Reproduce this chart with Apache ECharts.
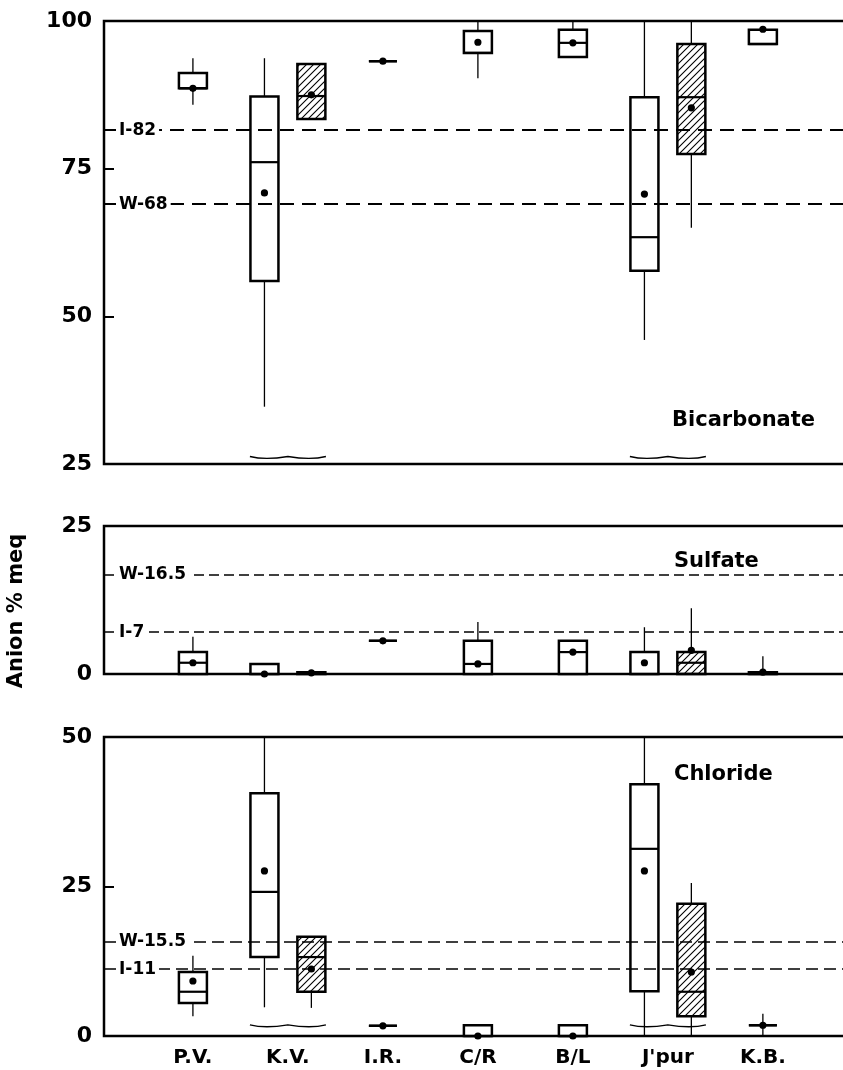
<!DOCTYPE html>
<html>
<head>
<meta charset="utf-8">
<script src="https://cdn.jsdelivr.net/npm/echarts@6/dist/echarts.min.js"></script>
<style>
  html, body { margin: 0; padding: 0; background: #fff; }
  #chart { width: 843px; height: 1070px; }
</style>
</head>
<body>
<div id="chart"></div>
<script>
// Anion % meq by site — three stacked box-plot panels

const categories = ['P.V.', 'K.V.', 'I.R.', 'C/R', 'B/L', "J'pur", 'K.B.'];

// rows: [site index, min, q1, median, q3, max, mean]
const bicarbPlain = [
  [0, 85.8, 88.6, 88.6, 91.2, 93.7, 88.6],
  [1, 34.7, 56.0, 76.1, 87.2, 93.7, 70.9],
  [2, 93.2, 93.2, 93.2, 93.2, 93.2, 93.2],
  [3, 90.3, 94.6, 94.6, 98.3, 100, 96.4],
  [4, 93.9, 93.9, 96.3, 98.5, 100, 96.3],
  [5, 46.0, 57.7, 63.4, 87.1, 100, 70.7],
  [6, 96.1, 96.1, 96.1, 98.5, 98.5, 98.6]
];
const bicarbHatched = [
  [1, 83.4, 83.4, 87.3, 92.7, 92.7, 87.5],
  [5, 65.0, 77.5, 87.1, 96.1, 100, 85.3]
];
const bicarbRefs = [['I-82', 81.6], ['W-68', 69]];
const bicarbBreaks = [[1, 26.1], [5, 26.1]];

const sulfatePlain = [
  [0, 0, 0, 1.9, 3.7, 6.3, 1.9],
  [1, 0, 0, 0, 1.7, 1.7, 0],
  [2, 5.6, 5.6, 5.6, 5.6, 5.6, 5.6],
  [3, 0, 0, 1.7, 5.6, 8.8, 1.7],
  [4, 0, 0, 3.7, 5.6, 5.6, 3.7],
  [5, 0, 0, 0, 3.7, 7.9, 1.9],
  [6, 0, 0, 0, 0.3, 3.0, 0.3]
];
const sulfateHatched = [
  [1, 0, 0, 0.2, 0.3, 0.3, 0.2],
  [5, 0, 0, 1.9, 3.7, 11.1, 4.0]
];
const sulfateRefs = [['W-16.5', 16.8], ['I-7', 7.1]];

const chloridePlain = [
  [0, 3.3, 5.5, 7.4, 10.7, 13.4, 9.2],
  [1, 4.8, 13.2, 24.1, 40.6, 50, 27.6],
  [2, 1.7, 1.7, 1.7, 1.7, 1.7, 1.7],
  [3, 0, 0, 0, 1.8, 1.8, 0],
  [4, 0, 0, 0, 1.8, 1.8, 0],
  [5, 0, 7.5, 31.3, 42.1, 50, 27.6],
  [6, 0, 1.8, 1.8, 1.8, 3.7, 1.8]
];
const chlorideHatched = [
  [1, 4.7, 7.4, 13.2, 16.6, 16.6, 11.2],
  [5, 0, 3.3, 7.4, 22.1, 25.6, 10.7]
];
const chlorideRefs = [['W-15.5', 15.8], ['I-11', 11.2]];
const chlorideBreaks = [[1, 1.7], [5, 1.7]];

const FONT = 'DejaVu Sans';
const PAIR_SHIFT = 0.247;   // x-units between site centre and each box of a pair
const BOX_HALF = 14;        // px

// diagonal hatch fill
function hatchPattern() {
  const c = document.createElement('canvas');
  c.width = c.height = 7;
  const g = c.getContext('2d');
  g.strokeStyle = '#000';
  g.lineWidth = 1.1;
  g.beginPath();
  g.moveTo(0, 7); g.lineTo(7, 0);
  g.moveTo(-1, 1); g.lineTo(1, -1);
  g.moveTo(6, 8); g.lineTo(8, 6);
  g.stroke();
  return { image: c, repeat: 'repeat' };
}
const HATCH = hatchPattern();

function boxRenderer(fill, slotOf) {
  return function (params, api) {
    const cat = api.value(0);
    const x = cat + slotOf(cat) * PAIR_SHIFT;
    const px = v => api.coord([x, v]);
    const cx = px(0)[0];
    const yMin = px(api.value(1))[1];
    const yQ1 = px(api.value(2))[1];
    const yMed = px(api.value(3))[1];
    const yQ3 = px(api.value(4))[1];
    const yMax = px(api.value(5))[1];
    const yMean = px(api.value(6))[1];
    const thin = { stroke: '#000', lineWidth: 1.3 };
    return {
      type: 'group',
      children: [
        { type: 'line', shape: { x1: cx, y1: yMax, x2: cx, y2: yQ3 }, style: thin },
        { type: 'line', shape: { x1: cx, y1: yQ1, x2: cx, y2: yMin }, style: thin },
        { type: 'rect', shape: { x: cx - BOX_HALF, y: yQ3, width: BOX_HALF * 2, height: yQ1 - yQ3 },
          style: { fill: fill, stroke: '#000', lineWidth: 2.5 } },
        { type: 'line', shape: { x1: cx - BOX_HALF, y1: yMed, x2: cx + BOX_HALF, y2: yMed },
          style: { stroke: '#000', lineWidth: 2.2 } },
        { type: 'circle', shape: { cx: cx, cy: yMean, r: 3.6 }, style: { fill: '#000' } }
      ]
    };
  };
}

// flat wavy mark under a broken whisker pair
function breakRenderer(params, api) {
  const [cx, cy] = api.coord([api.value(0), api.value(1)]);
  const d = `M${cx - 38} ${cy - 1} C${cx - 26} ${cy + 2} ${cx - 12} ${cy + 1} ${cx} ${cy - 1} ` +
            `C${cx + 12} ${cy + 1} ${cx + 26} ${cy + 2} ${cx + 38} ${cy - 1}`;
  return { type: 'path', shape: { pathData: d }, style: { fill: null, stroke: '#000', lineWidth: 1.4 } };
}

function refLines(refs, width, dash) {
  return {
    silent: true,
    symbol: 'none',
    lineStyle: { color: '#000', width: width, type: dash },
    label: {
      position: 'insideStartTop',
      distance: [12, -9],
      color: '#000',
      fontFamily: FONT,
      fontWeight: 'bold',
      fontSize: 17,
      backgroundColor: '#fff',
      padding: [0, 3]
    },
    data: refs.map(([name, v]) => ({ yAxis: v, label: { formatter: name } }))
  };
}

function panelSeries(idx, plain, hatched, refs, breaks, refWidth, dash) {
  const pairCats = hatched.map(r => r[0]);
  const list = [
    {
      type: 'custom', xAxisIndex: idx, yAxisIndex: idx, clip: false,
      renderItem: boxRenderer('#fff', c => (pairCats.includes(c) ? -1 : 0)),
      data: plain,
      markLine: refLines(refs, refWidth, dash),
      z: 3
    },
    {
      type: 'custom', xAxisIndex: idx, yAxisIndex: idx, clip: false,
      renderItem: boxRenderer(HATCH, () => 1),
      data: hatched,
      z: 3
    }
  ];
  if (breaks) {
    list.push({
      type: 'custom', xAxisIndex: idx, yAxisIndex: idx, clip: false,
      renderItem: breakRenderer, data: breaks, z: 3
    });
  }
  return list;
}

const gridBase = { left: 104, right: -3, show: true, borderColor: '#000', borderWidth: 2.5, outerBoundsMode: 'none' };
const grids = [
  Object.assign({ top: 21, height: 443 }, gridBase),
  Object.assign({ top: 526, height: 148 }, gridBase),
  Object.assign({ top: 737, height: 299 }, gridBase)
];

const xAxes = [0, 1, 2].map(i => ({
  type: 'value', gridIndex: i, min: -0.936, max: 6.875,
  axisLine: { show: false, onZero: false }, splitLine: { show: false },
  axisTick: { show: false },
  axisLabel: i === 2 ? {
    show: true, customValues: categories.map((c, k) => k),
    formatter: v => categories[Math.round(v)] || '',
    color: '#000', fontFamily: FONT, fontWeight: 'bold', fontSize: 20, margin: 12
  } : { show: false }
}));

const yLabel = { color: '#000', fontFamily: FONT, fontWeight: 'bold', fontSize: 22, margin: 12 };
const yCommon = {
  type: 'value', interval: 25,
  axisLine: { show: false, onZero: false }, splitLine: { show: false },
  axisTick: { show: true, inside: true, length: 10, lineStyle: { color: '#000', width: 2 } },
  axisLabel: yLabel
};
const yAxes = [
  Object.assign({}, yCommon, { gridIndex: 0, min: 25, max: 100 }),
  Object.assign({}, yCommon, { gridIndex: 1, min: 0, max: 25 }),
  Object.assign({}, yCommon, { gridIndex: 2, min: 0, max: 50 })
];

const titleStyle = { color: '#000', fontFamily: FONT, fontWeight: 'bold', fontSize: 21 };

const chart = echarts.init(document.getElementById('chart'), null, { renderer: 'canvas' });
chart.setOption({
  animation: false,
  backgroundColor: '#fff',
  textStyle: { fontFamily: FONT },
  title: [
    { text: 'Bicarbonate', left: 672, top: 410, padding: 0, textStyle: titleStyle },
    { text: 'Sulfate', left: 674, top: 551, padding: 0, textStyle: titleStyle },
    { text: 'Chloride', left: 674, top: 764, padding: 0, textStyle: titleStyle }
  ],
  graphic: [{
    type: 'text', x: 17, y: 611, rotation: Math.PI / 2,
    style: {
      text: 'Anion % meq', align: 'center', verticalAlign: 'middle',
      fill: '#000', font: 'bold 21px "DejaVu Sans"'
    }
  }],
  grid: grids,
  xAxis: xAxes,
  yAxis: yAxes,
  series: [].concat(
    panelSeries(0, bicarbPlain, bicarbHatched, bicarbRefs, bicarbBreaks, 1.9, [14, 8]),
    panelSeries(1, sulfatePlain, sulfateHatched, sulfateRefs, null, 1.5, [10, 5]),
    panelSeries(2, chloridePlain, chlorideHatched, chlorideRefs, chlorideBreaks, 1.6, [12, 6])
  )
});
</script>
</body>
</html>
